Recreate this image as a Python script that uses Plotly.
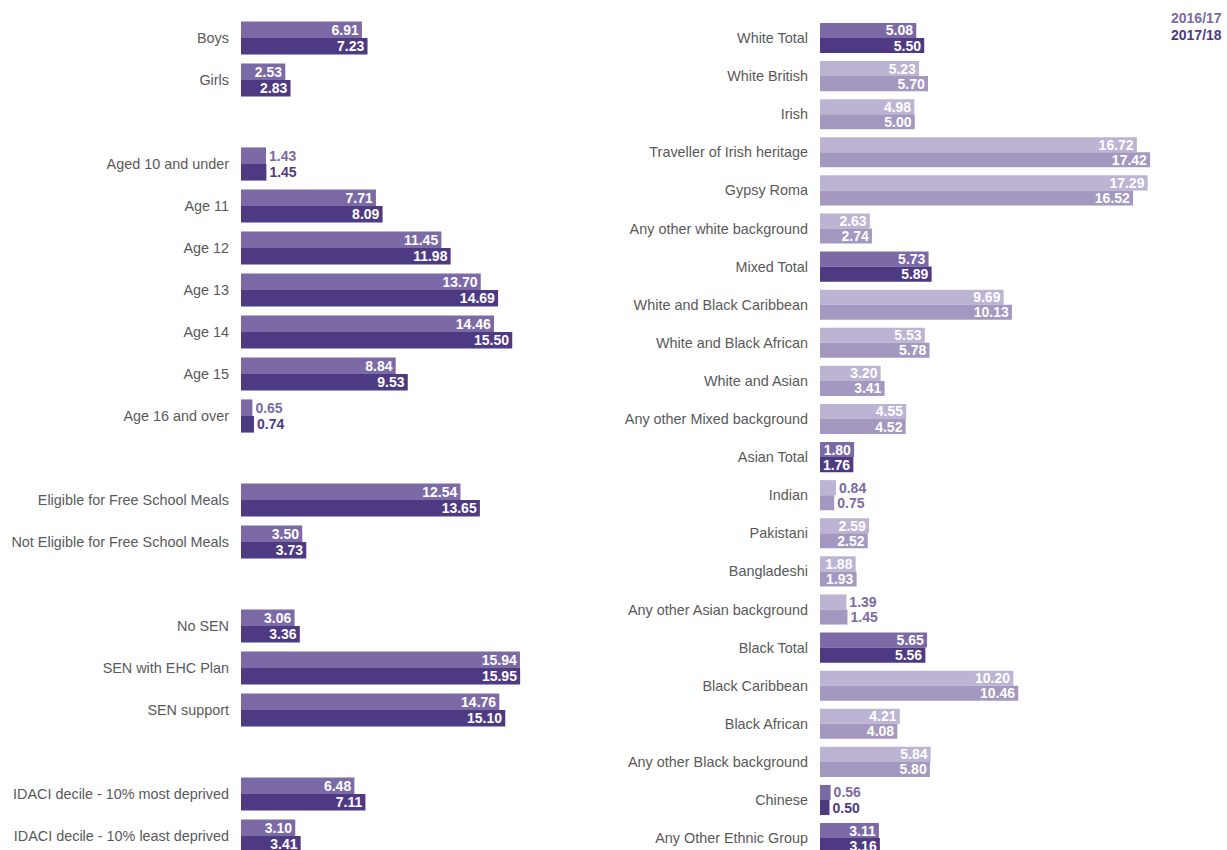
import plotly.graph_objects as go

# ---------------- data ----------------
left_groups = [
    ["Boys", "Girls"],
    ["Aged 10 and under", "Age 11", "Age 12", "Age 13", "Age 14", "Age 15", "Age 16 and over"],
    ["Eligible for Free School Meals", "Not Eligible for Free School Meals"],
    ["No SEN", "SEN with EHC Plan", "SEN support"],
    ["IDACI decile - 10% most deprived", "IDACI decile - 10% least deprived"],
]
left_2016 = [6.91, 2.53, 1.43, 7.71, 11.45, 13.70, 14.46, 8.84, 0.65,
             12.54, 3.50, 3.06, 15.94, 14.76, 6.48, 3.10]
left_2017 = [7.23, 2.83, 1.45, 8.09, 11.98, 14.69, 15.50, 9.53, 0.74,
             13.65, 3.73, 3.36, 15.95, 15.10, 7.11, 3.41]

right_cats = ["White Total", "White British", "Irish", "Traveller of Irish heritage", "Gypsy Roma",
              "Any other white background", "Mixed Total", "White and Black Caribbean",
              "White and Black African", "White and Asian", "Any other Mixed background",
              "Asian Total", "Indian", "Pakistani", "Bangladeshi", "Any other Asian background",
              "Black Total", "Black Caribbean", "Black African", "Any other Black background",
              "Chinese", "Any Other Ethnic Group"]
right_2016 = [5.08, 5.23, 4.98, 16.72, 17.29, 2.63, 5.73, 9.69, 5.53, 3.20, 4.55,
              1.80, 0.84, 2.59, 1.88, 1.39, 5.65, 10.20, 4.21, 5.84, 0.56, 3.11]
right_2017 = [5.50, 5.70, 5.00, 17.42, 16.52, 2.74, 5.89, 10.13, 5.78, 3.41, 4.52,
              1.76, 0.75, 2.52, 1.93, 1.45, 5.56, 10.46, 4.08, 5.80, 0.50, 3.16]
right_totals = {"White Total", "Mixed Total", "Asian Total", "Black Total", "Chinese",
                "Any Other Ethnic Group"}

series_names = ["2016/17", "2017/18"]

# ---------------- styles ----------------
DARK16 = "#7B6AA5"
DARK17 = "#4E3A82"
LIGHT16 = "#BDB3D3"
LIGHT17 = "#A498C1"
LABEL = "#595959"
FONT = "Liberation Sans, Arial, sans-serif"
W, H = 1227, 850
OUT_THRESHOLD = 1.5

# left positions from group structure (blank row between groups)
left_cats, left_pos = [], []
p = 0
for g in left_groups:
    for c in g:
        left_cats.append(c)
        left_pos.append(p)
        p += 1
    p += 1
right_pos = list(range(len(right_cats)))

fig = go.Figure()


def add_pair(pos, vals16, vals17, c16, c17, out16, out17, xa, ya):
    for name, vals, cols, outc in [(series_names[0], vals16, c16, out16),
                                   (series_names[1], vals17, c17, out17)]:
        tpos = ["outside" if v < OUT_THRESHOLD else "inside" for v in vals]
        tcol = [outc[i] if v < OUT_THRESHOLD else "white" for i, v in enumerate(vals)]
        fig.add_trace(go.Bar(
            y=pos, x=vals, orientation="h", name=name,
            marker=dict(color=cols, line=dict(width=0)),
            text=[f"{v:.2f}" for v in vals], textposition=tpos,
            insidetextanchor="end", constraintext="none",
            textfont=dict(family=FONT, size=14, color=tcol, weight="bold"),
            cliponaxis=False, xaxis=xa, yaxis=ya, showlegend=False,
            hoverinfo="x+y"))


nL = len(left_cats)
add_pair(left_pos, left_2016, left_2017,
         [DARK16] * nL, [DARK17] * nL, [DARK16] * nL, [DARK17] * nL, "x", "y")

c16 = [DARK16 if c in right_totals else LIGHT16 for c in right_cats]
c17 = [DARK17 if c in right_totals else LIGHT17 for c in right_cats]
o16 = [DARK16 for c in right_cats]
o17 = [DARK17 if c in right_totals else DARK16 for c in right_cats]
add_pair(right_pos, right_2016, right_2017, c16, c17, o16, o17, "x2", "y2")

# axis geometry (page pixels)
L0, L_scale = 241, 17.5
R0, R_scale = 820, 18.95
L_range, R_range = 20, 21
row0 = 38
lstep = 42
rstep = 38.1

tickfont = dict(family=FONT, size=14.4, color=LABEL)
fig.update_layout(
    width=W, height=H,
    margin=dict(l=0, r=0, t=0, b=0),
    paper_bgcolor="white", plot_bgcolor="white",
    barmode="group", bargap=0.21, bargroupgap=0,
    font=dict(family=FONT, color=LABEL, size=14),
    xaxis=dict(domain=[L0 / W, (L0 + L_range * L_scale) / W], range=[0, L_range],
               showgrid=False, zeroline=False, showticklabels=False, anchor="y"),
    yaxis=dict(domain=[0, 1], range=[(H - row0) / lstep, -row0 / lstep],
               tickvals=left_pos, ticktext=left_cats, showgrid=False, zeroline=False,
               ticks="", ticklabelstandoff=11, anchor="x", tickfont=tickfont),
    xaxis2=dict(domain=[R0 / W, (R0 + R_range * R_scale) / W], range=[0, R_range],
                showgrid=False, zeroline=False, showticklabels=False, anchor="y2"),
    yaxis2=dict(domain=[0, 1], range=[(H - row0) / rstep, -row0 / rstep],
                tickvals=right_pos, ticktext=right_cats, showgrid=False, zeroline=False,
                ticks="", ticklabelstandoff=11, anchor="x2", tickfont=tickfont),
    annotations=[
        dict(text="<b>2016/17</b>", x=1224 / W, y=1 - 18 / H,
             xref="paper", yref="paper", xanchor="right", yanchor="middle", showarrow=False,
             font=dict(family=FONT, size=14, color=DARK16)),
        dict(text="<b>2017/18</b>", x=1224 / W, y=1 - 35 / H,
             xref="paper", yref="paper", xanchor="right", yanchor="middle", showarrow=False,
             font=dict(family=FONT, size=14, color=DARK17)),
    ],
)

fig.write_html("out.html",
               config={"displayModeBar": False},
               post_script="document.body.style.margin='0';"
                           "document.body.style.overflow='hidden';")
